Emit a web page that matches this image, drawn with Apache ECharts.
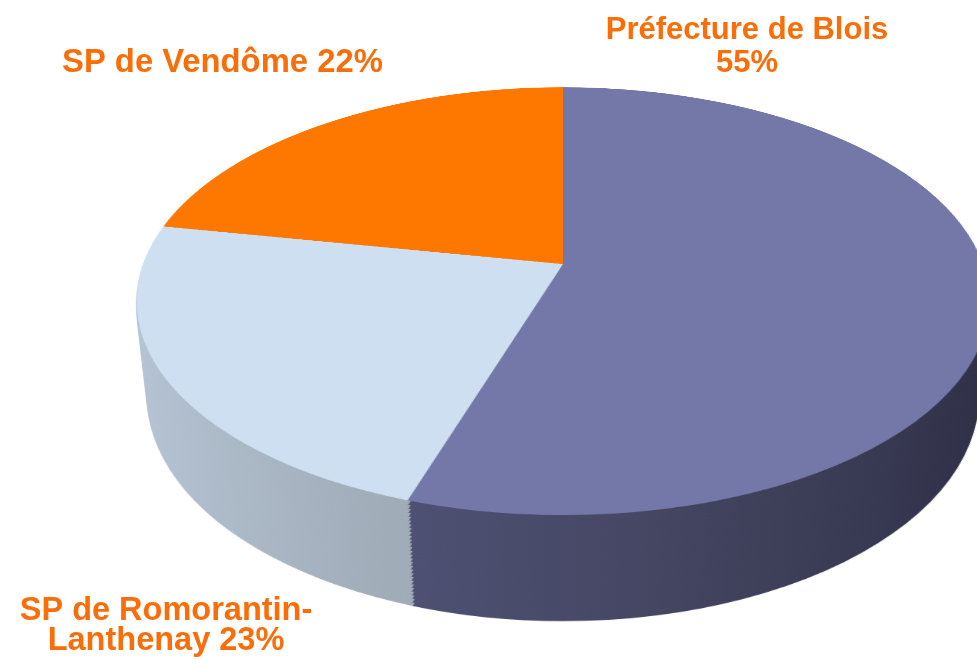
<!DOCTYPE html>
<html>
<head>
<meta charset="utf-8">
<title>Répartition</title>
<script src="https://cdn.jsdelivr.net/npm/echarts@6/dist/echarts.min.js"></script>
<style>
  html, body { margin: 0; padding: 0; background: #fff; overflow: hidden; }
  #stage { position: relative; width: 977px; height: 669px; overflow: hidden; }
  .layer {
    position: absolute;
    width: 880px; height: 880px;
    left: 123px; top: -176px;
    transform-origin: 440px 440px;
  }
  #labels { position: absolute; left: 0; top: 0; width: 977px; height: 669px; z-index: 10; }
</style>
</head>
<body>
<div id="stage"></div>
<script>
// données
var names = ['Préfecture de Blois', 'SP de Romorantin-Lanthenay', 'SP de Vendôme'];
var values = [55, 23, 22];
var topColors = ['#7478a8', '#cddff0', '#fe7800'];

// tilt of the pie (3d look)
var tilt = 60.4;
var persp = 2103;
var thickness = 111;
var nLayers = 28;

var stage = document.getElementById('stage');

function sideColor(stops) {
  return {
    type: 'linear', x: 0, y: 0, x2: 880, y2: 0, global: true,
    colorStops: stops
  };
}

var sideColors = [
  sideColor([{offset: 0, color: '#585a80'}, {offset: 0.34, color: '#4f5174'}, {offset: 0.63, color: '#42445f'}, {offset: 0.95, color: '#2f3047'}, {offset: 1, color: '#2c2d44'}]),
  sideColor([{offset: 0, color: '#bac7d6'}, {offset: 0.05, color: '#b4c2d2'}, {offset: 0.33, color: '#a0acb8'}, {offset: 1, color: '#909ca8'}]),
  sideColor([{offset: 0, color: '#c05800'}, {offset: 1, color: '#a04800'}])
];

function drawLayer(depth, colors, border) {
  var div = document.createElement('div');
  div.className = 'layer';
  div.style.transform = 'perspective(' + persp + 'px) rotateX(' + tilt + 'deg) translateZ(' + (-depth) + 'px)';
  stage.appendChild(div);
  var chart = echarts.init(div);
  chart.setOption({
    animation: false,
    series: [{
      type: 'pie',
      radius: 420,
      center: ['50%', '50%'],
      startAngle: 90,
      clockwise: true,
      silent: true,
      label: { show: false },
      labelLine: { show: false },
      emphasis: { disabled: true },
      data: values.map(function (v, i) {
        return {
          name: names[i], value: v,
          itemStyle: { color: colors[i], borderColor: colors[i], borderWidth: border }
        };
      })
    }]
  });
}

// side wall : stacked pies, bottom first
for (var i = nLayers; i >= 1; i--) {
  drawLayer(thickness * i / nLayers, sideColors, 1.5);
}
// top face
drawLayer(0, topColors, 0);

// labels
var lab = document.createElement('div');
lab.id = 'labels';
stage.appendChild(lab);
var labChart = echarts.init(lab);
function txt(s, x, y, align, size) {
  return {
    type: 'text', x: x, y: y,
    style: {
      text: s, align: align, verticalAlign: 'middle', fill: '#fa6e0a',
      font: 'bold ' + size + 'px "Liberation Sans", Arial, sans-serif'
    }
  };
}
var romParts = names[1].split('-');
labChart.setOption({
  animation: false,
  graphic: [
    txt(names[0], 747, 30, 'center', 31),
    txt(values[0] + '%', 747, 63, 'center', 31),
    txt(names[2] + ' ' + values[2] + '%', 62, 63, 'left', 32.8),
    txt(romParts[0] + '-', 166, 611, 'center', 32.5),
    txt(romParts[1] + ' ' + values[1] + '%', 166, 641, 'center', 32.5)
  ]
});
</script>
</body>
</html>
